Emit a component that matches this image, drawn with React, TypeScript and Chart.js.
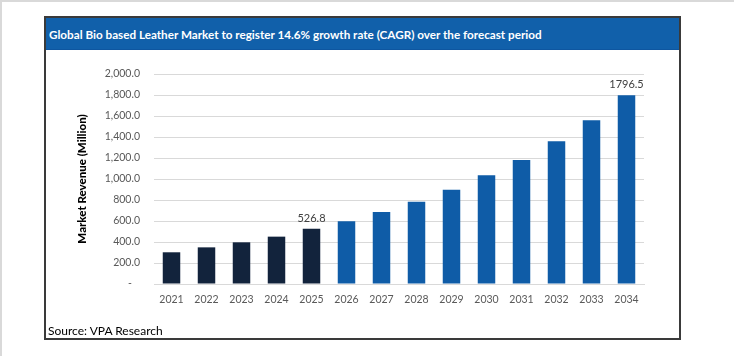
import React, { useEffect, useRef } from "react";
import { Chart, registerables } from "chart.js";

Chart.register(...registerables);

const titleText =
  "Global Bio based Leather Market to register 14.6% growth rate (CAGR) over the forecast period";
const sourceText = "Source: VPA Research";
const yAxisTitle = "Market Revenue (Million)";

const years = [
  "2021", "2022", "2023", "2024", "2025", "2026", "2027",
  "2028", "2029", "2030", "2031", "2032", "2033", "2034",
];
const revenue = [302, 349, 397, 451, 526.8, 597, 686, 784, 898, 1035, 1181, 1359, 1559, 1796.5];
const phase = [
  "historical", "historical", "historical", "historical", "historical",
  "forecast", "forecast", "forecast", "forecast", "forecast", "forecast", "forecast", "forecast", "forecast",
];
const valueLabels = [null, null, null, null, "526.8", null, null, null, null, null, null, null, null, "1796.5"];
const yMin = 0;
const yMax = 2000;
const yStep = 200;

const phaseColors: Record<string, string> = {
  historical: "#12233c",
  forecast: "#0f5ca7",
};

const FONT = "Lato, 'Open Sans', sans-serif";

const valueLabelPlugin = {
  id: "valueLabels",
  afterDatasetsDraw(chart: any) {
    const ctx = chart.ctx;
    const meta = chart.getDatasetMeta(0);
    ctx.save();
    ctx.font = `11px ${FONT}`;
    ctx.fillStyle = "#404040";
    ctx.textAlign = "center";
    ctx.textBaseline = "bottom";
    meta.data.forEach((bar: any, i: number) => {
      const lbl = valueLabels[i];
      if (lbl) ctx.fillText(lbl, bar.x, bar.y - 5);
    });
    ctx.restore();
  },
};

function formatTick(v: number) {
  if (v === 0) return "-   ";
  return v.toLocaleString("en-US", { minimumFractionDigits: 1, maximumFractionDigits: 1 });
}

export default function App() {
  const canvasRef = useRef<HTMLCanvasElement>(null);

  useEffect(() => {
    document.body.style.margin = "0";
    document.body.style.overflow = "hidden";
    const chart = new Chart(canvasRef.current!, {
      type: "bar",
      data: {
        labels: years,
        datasets: [
          {
            data: revenue,
            backgroundColor: phase.map((p) => phaseColors[p]),
            categoryPercentage: 1,
            barPercentage: 0.5,
          },
        ],
      },
      options: {
        animation: false,
        responsive: false,
        maintainAspectRatio: false,
        layout: { padding: { top: 24, right: 36, left: 0, bottom: 16 } },
        plugins: {
          legend: { display: false },
          tooltip: { enabled: false },
        },
        scales: {
          x: {
            grid: { display: false, drawTicks: false },
            border: { display: true, color: "#d9d9d9", width: 1 },
            ticks: {
              color: "#595959",
              font: { family: FONT, size: 10.5 },
              padding: 9,
              maxRotation: 0,
              autoSkip: false,
            },
            afterFit: (s: any) => {
              s.height = 30;
            },
          },
          y: {
            min: yMin,
            max: yMax,
            grid: { color: "#d9d9d9", lineWidth: 1, drawTicks: false },
            border: { display: false },
            ticks: {
              stepSize: yStep,
              color: "#595959",
              font: { family: FONT, size: 10.5 },
              padding: 14,
              callback: (v: any) => formatTick(Number(v)),
            },
            title: {
              display: true,
              text: yAxisTitle,
              color: "#000000",
              font: { family: FONT, size: 11.5, weight: 900 },
              padding: { top: 30, bottom: 0 },
            },
            afterFit: (s: any) => {
              s.width = 109;
            },
          },
        },
      },
      plugins: [valueLabelPlugin],
    });
    return () => chart.destroy();
  }, []);

  return (
    <div style={{ position: "absolute", left: 0, top: 0, width: 734, height: 356, background: "#fff", overflow: "hidden" }}>
      <div style={{ position: "absolute", left: 0, top: 0, width: 734, height: 2, background: "#d9d9d9" }} />
      <div style={{ position: "absolute", left: 0, top: 0, width: 2, height: 356, background: "#d9d9d9" }} />
      <div
        style={{
          position: "absolute",
          left: 44,
          top: 16,
          width: 637,
          height: 324,
          boxSizing: "border-box",
          border: "2px solid #3a3a3a",
          background: "#fff",
        }}
      />
      <div
        style={{
          position: "absolute",
          left: 46,
          top: 18,
          width: 633,
          height: 32,
          background: "#1160aa",
          borderBottom: "1px solid #0e56a0",
          boxSizing: "border-box",
          color: "#fff",
          fontFamily: FONT,
          fontWeight: 700,
          fontSize: 11.7,
          lineHeight: "32px",
          paddingLeft: 3,
          whiteSpace: "nowrap",
        }}
      >
        {titleText}
      </div>
      <canvas
        ref={canvasRef}
        width={635}
        height={280}
        style={{ position: "absolute", left: 45, top: 50, width: 635, height: 280 }}
      />
      <div
        style={{
          position: "absolute",
          left: 48,
          top: 323,
          fontFamily: FONT,
          fontSize: 12,
          lineHeight: "16px",
          color: "#000",
          whiteSpace: "nowrap",
        }}
      >
        {sourceText}
      </div>
    </div>
  );
}
